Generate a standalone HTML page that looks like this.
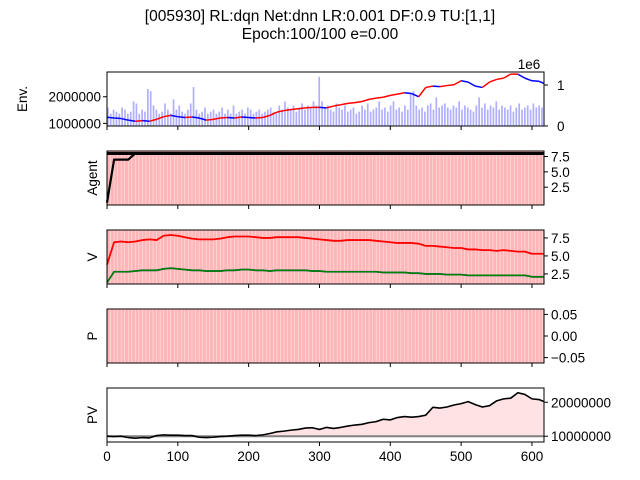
<!DOCTYPE html>
<html><head><meta charset="utf-8"><style>
body{margin:0;background:#fff}
svg{display:block;font-family:"Liberation Sans","DejaVu Sans",sans-serif}
</style></head><body>
<svg id="c" width="640" height="480" xmlns="http://www.w3.org/2000/svg">
<text x="320" y="21" text-anchor="middle" font-size="15.5">[005930] RL:dqn Net:dnn LR:0.001 DF:0.9 TU:[1,1]</text>
<text x="320" y="39" text-anchor="middle" font-size="15.5">Epoch:100/100 e=0.00</text>
</svg>
<script>
const steps = [0,10,20,30,40,50,60,70,80,90,100,110,120,130,140,150,160,170,180,190,200,210,220,230,240,250,260,270,280,290,300,310,320,330,340,350,360,370,380,390,400,410,420,430,440,450,460,470,480,490,500,510,520,530,540,550,560,570,580,590,600,610,617];
const price = [1.23,1.2,1.18,1.12,1.08,1.1,1.08,1.15,1.25,1.3,1.25,1.22,1.24,1.2,1.12,1.15,1.2,1.22,1.2,1.24,1.22,1.2,1.22,1.3,1.42,1.48,1.52,1.55,1.58,1.6,1.6,1.58,1.65,1.7,1.75,1.78,1.82,1.9,1.95,1.98,2.05,2.1,2.15,2.12,2.0,2.35,2.4,2.38,2.42,2.45,2.6,2.55,2.4,2.35,2.55,2.65,2.7,2.85,2.85,2.7,2.6,2.58,2.5];
const volume = [0.45,0.3,0.4,0.35,0.3,0.45,0.4,0.3,0.35,0.6,0.55,0.3,0.4,0.35,0.9,0.85,0.5,0.4,0.3,0.35,0.55,0.4,0.3,0.65,0.4,0.5,0.35,0.3,0.4,0.55,0.95,0.4,0.3,0.35,0.45,0.3,0.35,0.4,0.3,0.35,0.45,0.3,0.4,0.3,0.5,0.3,0.35,0.4,0.3,0.45,0.4,0.3,0.35,0.4,0.3,0.35,0.4,0.45,0.35,0.3,0.5,0.4,0.6,0.45,0.4,0.5,0.35,0.45,0.55,0.4,0.5,0.45,0.6,0.5,1.2,0.6,0.45,0.5,0.4,0.35,0.55,0.45,0.4,0.5,0.35,0.4,0.45,0.3,0.35,0.5,0.4,0.55,0.35,0.4,0.45,0.6,0.4,0.45,0.35,0.5,0.6,0.4,0.45,0.35,0.5,0.4,0.8,0.85,0.5,0.4,0.45,0.35,0.5,0.55,0.4,0.7,0.45,0.5,0.55,0.45,0.4,0.5,0.45,0.6,0.4,0.5,0.45,0.4,0.35,0.5,0.7,0.45,0.55,0.4,0.5,0.45,0.6,0.4,0.5,0.45,0.4,0.5,0.35,0.45,0.55,0.4,0.45,0.5,0.4,0.55,0.45,0.5,0.45];
const agent = [0,7,7,7,8,8,8,8,8,8,8,8,8,8,8,8,8,8,8,8,8,8,8,8,8,8,8,8,8,8,8,8,8,8,8,8,8,8,8,8,8,8,8,8,8,8,8,8,8,8,8,8,8,8,8,8,8,8,8,8,8,8,8];
const vRed = [3.8,6.9,7.0,6.9,7.0,7.2,7.3,7.2,7.8,7.9,7.8,7.6,7.4,7.3,7.3,7.3,7.4,7.6,7.7,7.7,7.7,7.6,7.5,7.5,7.6,7.6,7.6,7.6,7.5,7.4,7.3,7.2,7.1,7.1,7.2,7.2,7.2,7.2,7.1,7.0,6.9,6.8,6.8,6.8,6.7,6.4,6.4,6.3,6.2,6.1,6.1,5.9,5.9,5.8,5.8,5.7,5.8,5.7,5.6,5.6,5.3,5.3,5.3];
const vGreen = [1.3,2.8,2.8,2.8,2.9,3.0,3.0,3.0,3.2,3.3,3.2,3.1,3.0,3.0,2.9,2.9,2.9,3.0,3.0,3.1,3.1,3.0,3.0,2.9,3.0,3.0,3.0,3.0,3.0,2.9,2.9,2.8,2.8,2.8,2.8,2.8,2.8,2.8,2.8,2.7,2.7,2.7,2.7,2.6,2.6,2.5,2.5,2.5,2.4,2.4,2.4,2.3,2.3,2.3,2.3,2.3,2.3,2.3,2.3,2.3,2.1,2.1,2.1];
const pv = [10.0,9.9,10.0,9.6,9.4,9.6,9.5,10.2,10.4,10.3,10.3,10.2,10.2,9.7,9.6,9.7,9.9,10.0,10.2,10.3,10.3,10.2,10.4,10.8,11.3,11.5,11.8,12.0,12.4,12.5,12.0,12.6,12.3,12.6,13.0,13.3,13.5,14.0,14.3,15.0,14.8,15.5,15.8,15.6,15.8,16.2,18.5,18.3,18.6,19.2,19.6,20.2,19.3,18.6,19.0,20.4,21.0,21.2,22.8,22.3,21.0,20.8,20.2];
const xTicks = [0,100,200,300,400,500,600];
const NS='http://www.w3.org/2000/svg';
const svg=document.getElementById('c');
const X0=107,X1=544,XMAX=617;
const sx=v=>X0+v*(X1-X0)/XMAX;
function el(t,a,p){const e=document.createElementNS(NS,t);for(const k in a)e.setAttribute(k,a[k]);(p||svg).appendChild(e);return e;}
function txt(x,y,s,anchor,p,rot){const t=el('text',{x:x,y:y,'font-size':13.5,'text-anchor':anchor||'start'},p);t.textContent=s;if(rot)t.setAttribute('transform','rotate(-90 '+x+' '+y+')');return t;}
function panel(top,name,ylab,lo,hi){
  const g=el('g',{});
  
  
  const sy=v=>top+54-(v-lo)*54/(hi-lo);
  return {g,sy,top};
}
function pinkBg(p){
  el('rect',{x:X0,y:p.top,width:X1-X0,height:54,fill:'#ffb6b8'},p.g);
  for(let s=5;s<XMAX;s+=5){el('line',{x1:sx(s),x2:sx(s),y1:p.top,y2:p.top+54,stroke:'#ffe4e4','stroke-width':0.6},p.g);}
}
function frame(p,showX){
  el('rect',{x:X0,y:p.top,width:X1-X0,height:54,fill:'none',stroke:'#000','stroke-width':1},p.g);
  xTicks.forEach(t=>{el('line',{x1:sx(t),x2:sx(t),y1:p.top+54,y2:p.top+58,stroke:'#000'},p.g);
    if(showX){const l=txt(sx(t),p.top+73,String(t),'middle',p.g);}});
}
function rtick(p,v,label){const y=p.sy(v);el('line',{x1:X1,x2:X1+4,y1:y,y2:y,stroke:'#000'},p.g);txt(X1+7,y+5,label,'start',p.g);}
function ltick(p,v,label){const y=p.sy(v);el('line',{x1:X0-4,x2:X0,y1:y,y2:y,stroke:'#000'},p.g);txt(X0-6,y+5,label,'end',p.g);}
function line(p,xs,ys,sy,color,w){el('polyline',{points:xs.map((s,i)=>sx(s)+','+sy(ys[i])).join(' '),fill:'none',stroke:color,'stroke-width':w,'stroke-linejoin':'round'},p.g);}

// Panel 1 env
const p1=panel(72,'env-panel','Env.',0.9,2.93);
const vy=v=>126-v*41;
const bw=(X1-X0)/volume.length;
volume.forEach((v,i)=>{const s=i*(XMAX/volume.length);const b=el('rect',{x:sx(s),y:vy(v),width:bw*0.6,height:126-vy(v),fill:'#b0b0ff'},p1.g);

});
for(let i=1;i<steps.length;i++){const seg=el('line',{x1:sx(steps[i-1]),y1:p1.sy(price[i-1]),x2:sx(steps[i]),y2:p1.sy(price[i]),stroke:price[i]>=price[i-1]?'#f00':'#00f','stroke-width':1.5},p1.g);

}
frame(p1,false);
ltick(p1,2,'2000000');ltick(p1,1,'1000000');
[[1,'1'],[0,'0']].forEach(([v,l])=>{const y=vy(v);el('line',{x1:X1,x2:X1+4,y1:y,y2:y,stroke:'#000'},p1.g);txt(X1+13,y+5,l,'start',p1.g);});
txt(529,69,'1e6','middle',p1.g);
txt(27,99,'Env.','middle',p1.g,true);

// Panel 2 agent
const p2=panel(151,'agent-panel','Agent',-0.4,8.4);
pinkBg(p2);
line(p2,steps,agent,p2.sy,'#000',2.2);
el('line',{x1:X0,x2:X1,y1:p2.sy(8),y2:p2.sy(8),stroke:'#000','stroke-width':3},p2.g);
frame(p2,false);
rtick(p2,7.5,'7.5');rtick(p2,5,'5.0');rtick(p2,2.5,'2.5');
txt(97,178,'Agent','middle',p2.g,true);

// Panel 3 V
const p3=panel(230,'value-panel','V',1.1,8.6);
pinkBg(p3);
line(p3,steps,vRed,p3.sy,'#f00',1.8);
line(p3,steps,vGreen,p3.sy,'#3050a0',1.8);
line(p3,steps,vGreen,p3.sy,'#008000',1.6);
frame(p3,false);
rtick(p3,7.5,'7.5');rtick(p3,5,'5.0');rtick(p3,2.5,'2.5');
txt(97,257,'V','middle',p3.g,true);

// Panel 4 P
const p4=panel(309,'policy-panel','P',-0.0625,0.0625);
pinkBg(p4);
frame(p4,false);
rtick(p4,0.05,'0.05');rtick(p4,0,'0.00');rtick(p4,-0.05,'−0.05');
txt(97,336,'P','middle',p4.g,true);

// Panel 5 PV
const p5=panel(388,'portfolio-value-panel','PV',8.3,24.2);
const base=p5.sy(10);
el('polygon',{points:sx(0)+','+base+' '+steps.map((s,i)=>sx(s)+','+p5.sy(Math.max(pv[i],10))).join(' ')+' '+sx(XMAX)+','+base,fill:'#ffe2e4'},p5.g);
el('polygon',{points:sx(0)+','+base+' '+steps.map((s,i)=>sx(s)+','+p5.sy(Math.min(pv[i],10))).join(' ')+' '+sx(XMAX)+','+base,fill:'#c8c8c8'},p5.g);
el('line',{x1:X0,x2:X1,y1:base,y2:base,stroke:'#808080','stroke-width':2},p5.g);
line(p5,steps,pv,p5.sy,'#000',1.6);
frame(p5,true);
rtick(p5,20,'20000000');rtick(p5,10,'10000000');
txt(97,415,'PV','middle',p5.g,true);
</script>
</body></html>
